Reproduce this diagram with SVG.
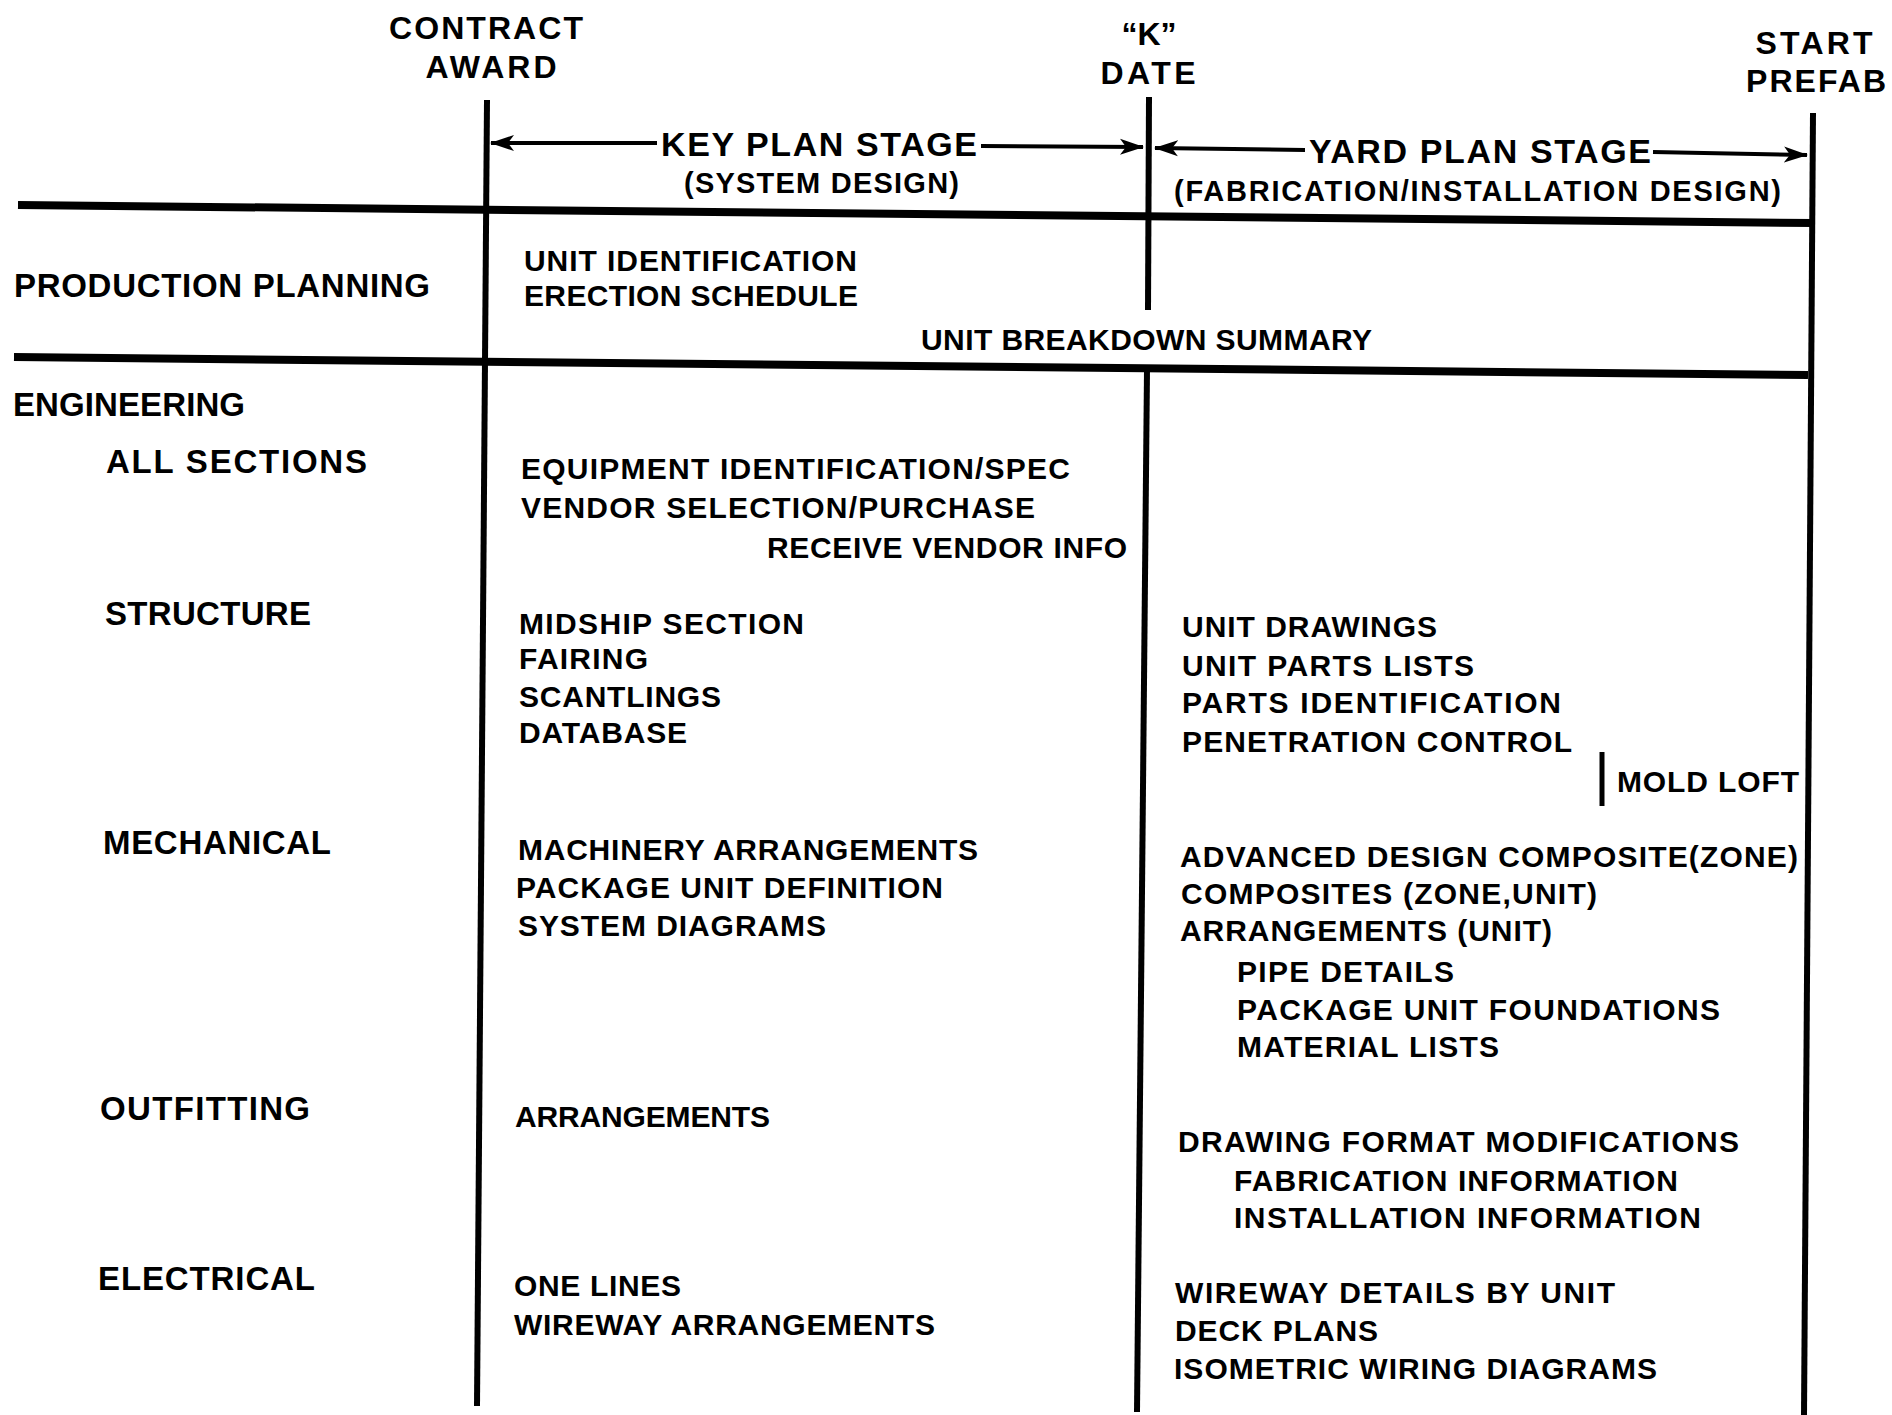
<svg xmlns="http://www.w3.org/2000/svg" width="1892" height="1415" viewBox="0 0 1892 1415">
<style>
text{font-family:"Liberation Sans Narrow","Liberation Sans",Arial,sans-serif;font-weight:bold;fill:#000}
.t{font-size:32px}
.h{font-size:33px}
.i{font-size:30px}
.s{font-size:34px}
.sub{font-size:29px}
.ln{stroke:#000;fill:none;stroke-linecap:butt}
.thick{stroke-width:8}
.vert{stroke-width:6}
.arr{stroke-width:4}
</style>
<defs>
<marker id="ah" viewBox="0 0 24 18" refX="23" refY="9" markerWidth="24" markerHeight="18" markerUnits="userSpaceOnUse" orient="auto-start-reverse">
<path d="M0,1 L24,9 L0,17 L6,9 Z" fill="#000"/>
</marker>
</defs>
<rect width="1892" height="1415" fill="#fff"/>

<g id="grid">
<line class="ln thick" x1="18" y1="205" x2="1813" y2="223"/>
<line class="ln thick" x1="14" y1="357" x2="1808" y2="375"/>
<line class="ln vert" x1="487" y1="100" x2="477" y2="1406"/>
<line class="ln vert" x1="1149" y1="97" x2="1148" y2="310"/>
<line class="ln vert" x1="1147" y1="370" x2="1137" y2="1412"/>
<line class="ln vert" x1="1813" y1="113" x2="1804" y2="1415"/>
<line class="ln" stroke-width="5" x1="1602" y1="752" x2="1602" y2="806"/>
</g>

<g id="connectors">
<line class="ln arr" x1="657" y1="143" x2="491" y2="143" marker-end="url(#ah)"/>
<line class="ln arr" x1="981" y1="146" x2="1143" y2="147" marker-end="url(#ah)"/>
<line class="ln arr" x1="1305" y1="150" x2="1155" y2="148" marker-end="url(#ah)"/>
<line class="ln arr" x1="1653" y1="152" x2="1807" y2="155" marker-end="url(#ah)"/>
</g>

<g id="milestone-contract-award">
<text class="t" x="486" y="39" text-anchor="middle" textLength="194" lengthAdjust="spacing">CONTRACT</text>
<text class="t" x="491" y="78" text-anchor="middle" textLength="131" lengthAdjust="spacing">AWARD</text>
</g>
<g id="milestone-k-date">
<text class="t" x="1149" y="45" text-anchor="middle">“K”</text>
<text class="t" x="1148" y="84" text-anchor="middle" textLength="95" lengthAdjust="spacing">DATE</text>
</g>
<g id="milestone-start-prefab">
<text class="t" x="1814" y="54" text-anchor="middle" textLength="117" lengthAdjust="spacing">START</text>
<text class="t" x="1816" y="92" text-anchor="middle" textLength="140" lengthAdjust="spacing">PREFAB</text>
</g>

<g id="stage-key-plan">
<text class="s" x="661" y="156" textLength="316" lengthAdjust="spacing">KEY PLAN STAGE</text>
<text class="sub" x="684" y="193" textLength="275" lengthAdjust="spacing">(SYSTEM DESIGN)</text>
</g>
<g id="stage-yard-plan">
<text class="s" x="1309" y="163" textLength="342" lengthAdjust="spacing">YARD PLAN STAGE</text>
<text class="sub" x="1174" y="201" textLength="607" lengthAdjust="spacing">(FABRICATION/INSTALLATION DESIGN)</text>
</g>

<g id="row-production-planning">
<text class="h" x="14" y="297" textLength="416" lengthAdjust="spacing">PRODUCTION PLANNING</text>
<text class="i" x="524" y="271" textLength="333" lengthAdjust="spacing">UNIT IDENTIFICATION</text>
<text class="i" x="524" y="306" textLength="334" lengthAdjust="spacing">ERECTION SCHEDULE</text>
<text class="i" x="921" y="350" textLength="451" lengthAdjust="spacing">UNIT BREAKDOWN SUMMARY</text>
</g>

<g id="row-engineering">
<text class="h" x="13" y="416" textLength="232" lengthAdjust="spacing">ENGINEERING</text>
</g>

<g id="row-all-sections">
<text class="h" x="106" y="473" textLength="261" lengthAdjust="spacing">ALL SECTIONS</text>
<text class="i" x="521" y="479" textLength="549" lengthAdjust="spacing">EQUIPMENT IDENTIFICATION/SPEC</text>
<text class="i" x="521" y="518" textLength="514" lengthAdjust="spacing">VENDOR SELECTION/PURCHASE</text>
<text class="i" x="767" y="558" textLength="360" lengthAdjust="spacing">RECEIVE VENDOR INFO</text>
</g>

<g id="row-structure">
<text class="h" x="105" y="625" textLength="206" lengthAdjust="spacing">STRUCTURE</text>
<text class="i" x="519" y="634" textLength="285" lengthAdjust="spacing">MIDSHIP SECTION</text>
<text class="i" x="519" y="669" textLength="129" lengthAdjust="spacing">FAIRING</text>
<text class="i" x="519" y="707" textLength="202" lengthAdjust="spacing">SCANTLINGS</text>
<text class="i" x="519" y="743" textLength="168" lengthAdjust="spacing">DATABASE</text>
<text class="i" x="1182" y="637" textLength="255" lengthAdjust="spacing">UNIT DRAWINGS</text>
<text class="i" x="1182" y="676" textLength="292" lengthAdjust="spacing">UNIT PARTS LISTS</text>
<text class="i" x="1182" y="713" textLength="379" lengthAdjust="spacing">PARTS IDENTIFICATION</text>
<text class="i" x="1182" y="752" textLength="390" lengthAdjust="spacing">PENETRATION CONTROL</text>
<text class="i" x="1617" y="792" textLength="182" lengthAdjust="spacing">MOLD LOFT</text>
</g>

<g id="row-mechanical">
<text class="h" x="103" y="854" textLength="228" lengthAdjust="spacing">MECHANICAL</text>
<text class="i" x="518" y="860" textLength="460" lengthAdjust="spacing">MACHINERY ARRANGEMENTS</text>
<text class="i" x="516" y="898" textLength="427" lengthAdjust="spacing">PACKAGE UNIT DEFINITION</text>
<text class="i" x="518" y="936" textLength="308" lengthAdjust="spacing">SYSTEM DIAGRAMS</text>
<text class="i" x="1180" y="867" textLength="618" lengthAdjust="spacing">ADVANCED DESIGN COMPOSITE(ZONE)</text>
<text class="i" x="1181" y="904" textLength="416" lengthAdjust="spacing">COMPOSITES (ZONE,UNIT)</text>
<text class="i" x="1180" y="941" textLength="372" lengthAdjust="spacing">ARRANGEMENTS (UNIT)</text>
<text class="i" x="1237" y="982" textLength="217" lengthAdjust="spacing">PIPE DETAILS</text>
<text class="i" x="1237" y="1020" textLength="483" lengthAdjust="spacing">PACKAGE UNIT FOUNDATIONS</text>
<text class="i" x="1237" y="1057" textLength="262" lengthAdjust="spacing">MATERIAL LISTS</text>
</g>

<g id="row-outfitting">
<text class="h" x="100" y="1120" textLength="210" lengthAdjust="spacing">OUTFITTING</text>
<text class="i" x="515" y="1127" textLength="255" lengthAdjust="spacing">ARRANGEMENTS</text>
<text class="i" x="1178" y="1152" textLength="561" lengthAdjust="spacing">DRAWING FORMAT MODIFICATIONS</text>
<text class="i" x="1234" y="1191" textLength="444" lengthAdjust="spacing">FABRICATION INFORMATION</text>
<text class="i" x="1234" y="1228" textLength="467" lengthAdjust="spacing">INSTALLATION INFORMATION</text>
</g>

<g id="row-electrical">
<text class="h" x="98" y="1290" textLength="217" lengthAdjust="spacing">ELECTRICAL</text>
<text class="i" x="514" y="1296" textLength="167" lengthAdjust="spacing">ONE LINES</text>
<text class="i" x="514" y="1335" textLength="421" lengthAdjust="spacing">WIREWAY ARRANGEMENTS</text>
<text class="i" x="1175" y="1303" textLength="440" lengthAdjust="spacing">WIREWAY DETAILS BY UNIT</text>
<text class="i" x="1175" y="1341" textLength="203" lengthAdjust="spacing">DECK PLANS</text>
<text class="i" x="1174" y="1379" textLength="483" lengthAdjust="spacing">ISOMETRIC WIRING DIAGRAMS</text>
</g>
</svg>
